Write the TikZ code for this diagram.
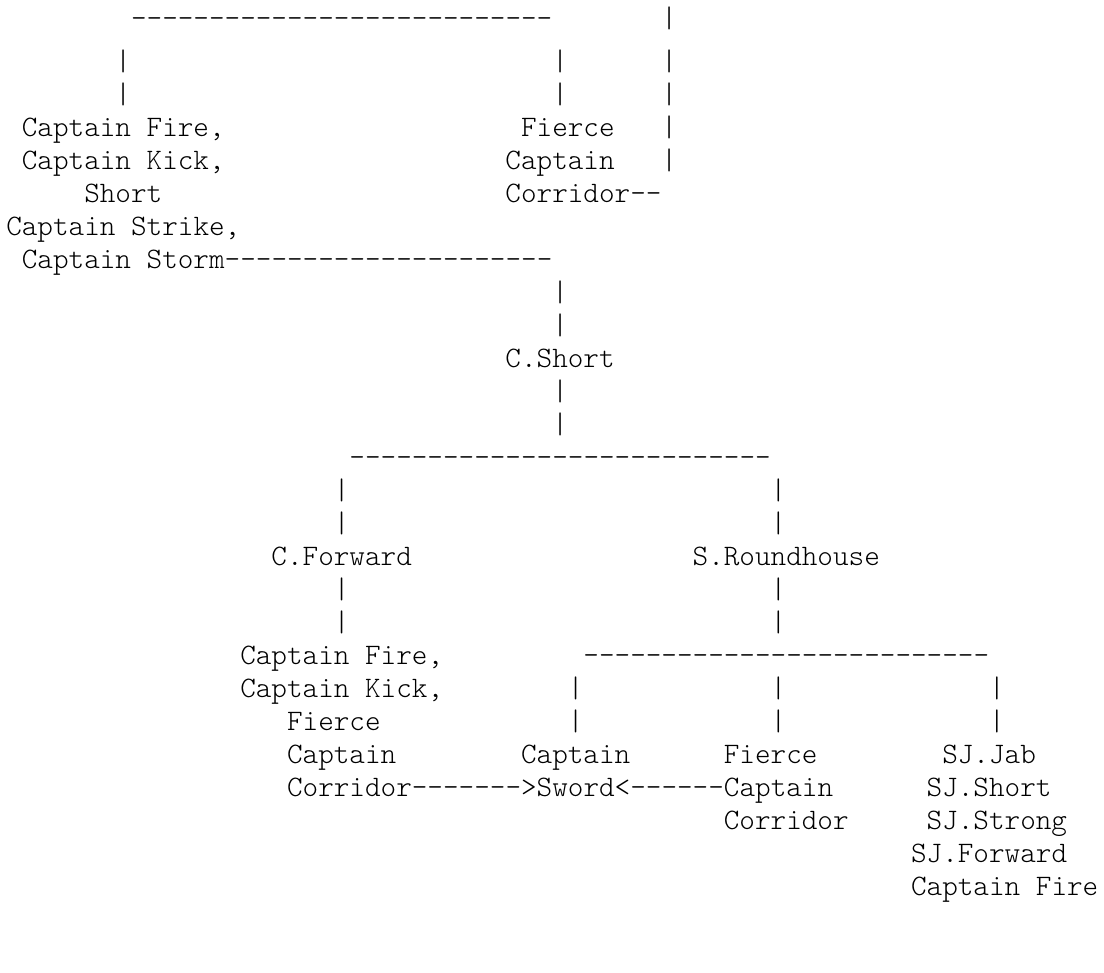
\documentclass[tikz,border=0pt]{standalone}
\usepackage{fontspec}
\usepackage{tikz}

\begin{document}
\begin{tikzpicture}[x=11.7pt,y=-24.75pt,
  txt/.style={anchor=base west,inner sep=0pt,font=\ttfamily\fontseries{l}\fontsize{22.29pt}{24.75pt}\selectfont}]
\useasboundingbox (0pt,0pt) rectangle (828pt,-729.75pt);
\begin{scope}[shift={(0.3846,0.1364)}]

% top branch
\node[txt] (hbarA) at (8,0.71) {---------------------------};
\node[txt] (vbR1) at (42,0.71) {|};
\node[txt] (vbL2) at (7,2) {|};
\node[txt] (vbM2) at (35,2) {|};
\node[txt] (vbR2) at (42,2) {|};
\node[txt] (vbL3) at (7,3) {|};
\node[txt] (vbM3) at (35,3) {|};
\node[txt] (vbR3) at (42,3) {|};

% left group and right group
\node[txt] (fireA) at (1,4) {Captain Fire,};
\node[txt] (fierceA) at (33,4) {Fierce};
\node[txt] (vbR4) at (42,4) {|};
\node[txt] (kickA) at (1,5) {Captain Kick,};
\node[txt] (captA) at (32,5) {Captain};
\node[txt] (vbR5) at (42,5) {|};
\node[txt] (shortA) at (5,6) {Short};
\node[txt] (corrA) at (32,6) {Corridor--};
\node[txt] (strikeA) at (0,7) {Captain Strike,};
\node[txt] (stormA) at (1,8) {Captain Storm---------------------};

% down to C.Short
\node[txt] (vb9) at (35,9) {|};
\node[txt] (vb10) at (35,10) {|};
\node[txt] (cshort) at (32,11) {C.Short};
\node[txt] (vb12) at (35,12) {|};
\node[txt] (vb13) at (35,13) {|};

% second branch
\node[txt] (hbarB) at (22,14) {---------------------------};
\node[txt] (vbL15) at (21,15) {|};
\node[txt] (vbR15) at (49,15) {|};
\node[txt] (vbL16) at (21,16) {|};
\node[txt] (vbR16) at (49,16) {|};
\node[txt] (cfwd) at (17,17) {C.Forward};
\node[txt] (sround) at (44,17) {S.Roundhouse};
\node[txt] (vbL18) at (21,18) {|};
\node[txt] (vbR18) at (49,18) {|};
\node[txt] (vbL19) at (21,19) {|};
\node[txt] (vbR19) at (49,19) {|};

% third branch
\node[txt] (fireB) at (15,20) {Captain Fire,};
\node[txt] (hbarC) at (37,20) {--------------------------};
\node[txt] (kickB) at (15,21) {Captain Kick,};
\node[txt] (vbL21) at (36,21) {|};
\node[txt] (vbM21) at (49,21) {|};
\node[txt] (vbR21) at (63,21) {|};
\node[txt] (fierceB) at (18,22) {Fierce};
\node[txt] (vbL22) at (36,22) {|};
\node[txt] (vbM22) at (49,22) {|};
\node[txt] (vbR22) at (63,22) {|};
\node[txt] (captB) at (18,23) {Captain};
\node[txt] (captC) at (33,23) {Captain};
\node[txt] (fierceC) at (46,23) {Fierce};
\node[txt] (sjjab) at (60,23) {SJ.Jab};
\node[txt] (sword) at (18,24) {Corridor------->Sword<------Captain};
\node[txt] (sjshort) at (59,24) {SJ.Short};
\node[txt] (corrC) at (46,25) {Corridor};
\node[txt] (sjstrong) at (59,25) {SJ.Strong};
\node[txt] (sjfwd) at (58,26) {SJ.Forward};
\node[txt] (fireC) at (58,27) {Captain Fire};
\end{scope}
\end{tikzpicture}
\end{document}
